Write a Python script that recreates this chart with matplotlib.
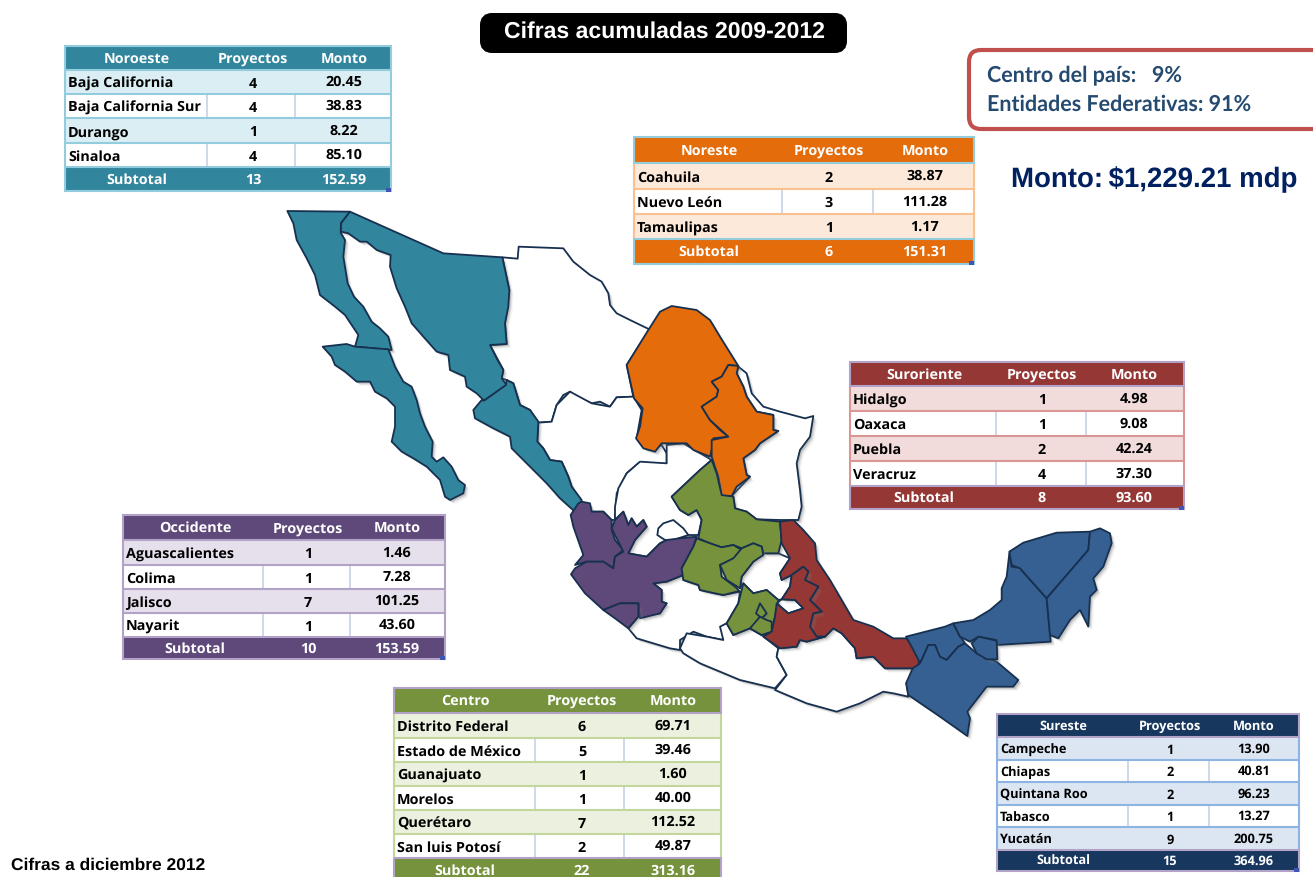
import matplotlib

matplotlib.use("Agg")
import matplotlib.patheffects as pe
import matplotlib.pyplot as plt
from matplotlib.patches import FancyBboxPatch, Rectangle

plt.rcParams["text.hinting"] = "no_hinting"

# Table contents
NOROESTE_STATES = ["Baja California", "Baja California Sur", "Durango", "Sinaloa"]
NOROESTE_PROJECTS = [4, 4, 1, 4]
NOROESTE_AMOUNTS = ["20.45", "38.83", "8.22", "85.10"]
NOROESTE_TOTAL = (13, "152.59")

NORESTE_STATES = ["Coahuila", "Nuevo León", "Tamaulipas"]
NORESTE_PROJECTS = [2, 3, 1]
NORESTE_AMOUNTS = ["38.87", "111.28", "1.17"]
NORESTE_TOTAL = (6, "151.31")

SURORIENTE_STATES = ["Hidalgo", "Oaxaca", "Puebla", "Veracruz"]
SURORIENTE_PROJECTS = [1, 1, 2, 4]
SURORIENTE_AMOUNTS = ["4.98", "9.08", "42.24", "37.30"]
SURORIENTE_TOTAL = (8, "93.60")

OCCIDENTE_STATES = ["Aguascalientes", "Colima", "Jalisco", "Nayarit"]
OCCIDENTE_PROJECTS = [1, 1, 7, 1]
OCCIDENTE_AMOUNTS = ["1.46", "7.28", "101.25", "43.60"]
OCCIDENTE_TOTAL = (10, "153.59")

CENTRO_STATES = ["Distrito Federal", "Estado de México", "Guanajuato", "Morelos", "Querétaro", "San luis Potosí"]
CENTRO_PROJECTS = [6, 5, 1, 1, 7, 2]
CENTRO_AMOUNTS = ["69.71", "39.46", "1.60", "40.00", "112.52", "49.87"]
CENTRO_TOTAL = (22, "313.16")

SURESTE_STATES = ["Campeche", "Chiapas", "Quintana Roo", "Tabasco", "Yucatán"]
SURESTE_PROJECTS = [1, 2, 2, 1, 9]
SURESTE_AMOUNTS = ["13.90", "40.81", "96.23", "13.27", "200.75"]
SURESTE_TOTAL = (15, "364.96")

TEAL = "#31859c"
ORANGE = "#e46c0a"
GREEN = "#76923c"
PURPLE = "#5f497a"
RED = "#953735"
BLUE = "#366092"
NAVY = "#17375e"
OUTLINE = "#17304f"
LILAC = "#b3a2c7"
SKY = "#93cddd"
DIVIDER = "#ccd5e8"

# Map outlines, each list in its own crop frame
# frame A = origin (280, 200), B = (540, 440), C = (480, 230), D = (880, 510), all 3x
BAJA_NORTE = [(22,33),(210,35),(183,70),(182,98),(195,120),(190,170),(203,250),(222,290),(250,320),(275,365),(300,385),(325,410),(335,450),(225,440),(235,405),(195,345),(165,320),(120,285),(105,225),(80,175),(50,120),(40,70)]
BAJA_SUR = [(128,440),(200,432),(225,440),(325,448),(345,500),(370,545),(395,560),(410,600),(420,640),(435,680),(458,725),(455,770),(470,785),(490,772),(515,800),(535,840),(555,855),(550,880),(510,900),(495,890),(480,840),(440,800),(400,775),(365,755),(335,725),(345,680),(345,620),(320,595),(285,575),(270,545),(230,545),(195,515),(165,495),(155,470)]
SONORA = [(210,35),(490,160),(667,172),(688,270),(685,320),(675,370),(680,432),(630,435),(650,475),(670,510),(665,535),(680,555),(612,602),(590,580),(560,560),(555,530),(510,510),(505,465),(470,455),(430,410),(395,370),(375,320),(350,265),(330,200),(332,165),(290,150),(260,125),(240,125),(205,100),(183,95),(183,70)]
SINALOA = [(680,540),(700,550),(720,615),(750,630),(775,665),(772,725),(790,745),(810,780),(845,785),(865,830),(875,860),(905,900),(890,940),(840,895),(800,850),(750,800),(695,745),(690,710),(640,685),(585,655),(580,630),(605,600),(612,602),(678,555)]
CHIHUAHUA = [(667,172),(713,176),(716,140),(850,145),(880,185),(930,225),(965,245),(985,280),(990,315),(1010,340),(1050,360),(1108,388),(1040,495),(1060,590),(1010,592),(990,620),(960,605),(935,610),(890,590),(870,575),(850,585),(830,615),(815,665),(775,668),(750,630),(720,615),(700,550),(680,540),(665,535),(670,510),(630,435),(680,432),(675,370),(688,270)]
DURANGO = [(775,668),(815,665),(830,615),(870,575),(935,610),(990,620),(1010,592),(1060,590),(1085,630),(1070,715),(1110,750),(1145,735),(1160,760),(1160,792),(1075,790),(1040,820),(1010,880),(1005,960),(995,960),(970,935),(935,935),(905,905),(875,860),(865,830),(845,785),(810,780),(790,745),(772,725)]

COAHUILA = [(505,300),(540,245),(575,228),(650,240),(690,270),(720,320),(775,408),(745,405),(725,440),(695,455),(715,480),(710,500),(665,530),(690,570),(720,600),(745,620),(700,625),(695,660),(690,680),(640,660),(620,640),(545,640),(525,665),(490,655),(468,625),(480,590),(488,535),(462,505),(440,405)]
NUEVO_LEON = [(745,405),(775,408),(770,430),(790,470),(800,500),(830,545),(880,555),(880,600),(895,603),(840,640),(825,660),(790,685),(800,735),(810,740),(770,770),(755,798),(725,800),(715,740),(695,680),(695,630),(745,620),(690,570),(665,530),(710,500),(715,480),(695,455),(725,440)]
TAMAULIPAS = [(775,410),(800,430),(815,490),(850,530),(900,545),(975,565),(1000,558),(990,620),(960,660),(950,700),(960,780),(965,830),(955,870),(900,870),(830,868),(800,845),(765,835),(760,800),(755,798),(810,740),(800,735),(790,685),(825,660),(840,640),(895,603),(880,600),(880,555),(830,545),(800,500),(790,470),(770,430)]

ZACATECAS = [(380,15),(430,10),(515,60),(480,90),(395,170),(420,210),(445,225),(470,210),(485,240),(475,285),(440,285),(420,295),(380,300),(360,310),(320,350),(265,340),(285,300),(320,260),(310,240),(290,260),(275,235),(265,255),(250,215),(225,240),(225,200),(235,145),(260,100),(300,65),(380,70)]
AGUASCALIENTES = [(355,265),(370,250),(400,240),(430,265),(445,285),(400,300),(375,300),(352,285)]
NAYARIT = [(92,225),(115,190),(125,185),(150,190),(155,215),(190,215),(215,240),(215,270),(225,300),(250,330),(225,350),(220,385),(190,365),(140,365),(105,375),(130,345),(100,260)]
JALISCO = [(140,365),(190,365),(220,385),(225,350),(250,335),(215,265),(225,240),(250,215),(265,255),(275,235),(290,260),(310,240),(320,260),(285,300),(265,340),(320,350),(360,310),(380,300),(420,295),(470,290),(460,320),(425,385),(430,405),(380,425),(340,430),(365,450),(365,485),(380,490),(360,520),(300,535),(295,490),(240,490),(190,510),(135,460),(93,403),(105,385)]
COLIMA = [(190,510),(240,490),(295,490),(295,530),(265,565),(225,535)]
SAN_LUIS = [(515,60),(530,100),(545,165),(580,170),(585,205),(620,215),(650,238),(720,245),(725,300),(715,340),(670,340),(665,320),(640,310),(605,325),(580,315),(545,322),(510,310),(475,295),(485,240),(470,210),(445,225),(420,210),(395,170),(480,90)]
GUANAJUATO = [(470,295),(510,310),(545,322),(580,315),(605,330),(605,345),(540,375),(545,410),(585,440),(600,455),(590,455),(550,465),(525,460),(480,450),(475,435),(430,420),(425,385),(460,320)]
QUERETARO = [(605,325),(640,310),(665,320),(670,345),(640,365),(605,410),(600,445),(560,420),(540,375),(580,355)]
EDO_MEXICO = [(610,430),(640,460),(680,450),(715,480),(705,530),(695,575),(665,585),(630,565),(580,585),(560,550),(595,490)]
DISTRITO_FEDERAL = [(660,490),(680,520),(665,535),(648,520)]
MORELOS = [(630,565),(660,530),(680,540),(695,545),(695,575),(665,585)]
VERACRUZ = [(720,245),(760,240),(790,270),(825,310),(830,360),(870,420),(905,480),(940,540),(1000,560),(1060,595),(1100,595),(1140,660),(1130,685),(1035,685),(1000,650),(950,655),(945,625),(905,580),(880,565),(855,590),(830,590),(810,560),(820,520),(845,515),(810,480),(835,440),(795,420),(805,395),(790,380),(755,405),(725,420),(720,400),(750,355),(725,310)]
PUEBLA = [(755,405),(790,380),(805,395),(795,420),(835,440),(810,480),(845,515),(820,520),(810,560),(830,590),(855,590),(800,605),(780,600),(770,620),(720,625),(670,590),(695,575),(705,530),(710,490),(745,520),(790,505),(765,480),(725,478),(750,440)]
TLAXCALA = [(710,490),(725,478),(765,480),(790,505),(745,520)]
HIDALGO = [(670,340),(715,340),(750,355),(720,400),(725,420),(755,405),(750,440),(725,478),(715,480),(680,450),(640,460),(610,430),(600,445),(605,410),(640,365)]
MICHOACAN = [(340,430),(380,425),(430,405),(430,420),(475,435),(480,450),(525,460),(550,465),(600,455),(595,490),(560,550),(545,560),(550,600),(500,590),(460,575),(420,600),(420,630),(390,625),(290,595),(265,565),(295,530),(360,520),(380,490),(365,485),(365,450)]
GUERRERO = [(420,625),(440,580),(500,590),(550,600),(540,560),(560,550),(580,585),(630,565),(665,585),(715,625),(710,650),(740,705),(705,745),(600,720),(480,670),(430,640)]
OAXACA = [(715,625),(770,620),(780,600),(800,605),(855,590),(880,565),(905,580),(945,625),(950,655),(1000,650),(1035,685),(1130,685),(1100,730),(1105,770),(1060,760),(1030,755),(960,790),(890,815),(800,790),(705,750),(740,705),(710,650)]

TABASCO = [(78,380),(195,350),(220,340),(240,380),(245,385),(255,400),(235,410),(200,450),(180,440),(165,405),(145,405),(125,450),(118,455),(95,410)]
CHIAPAS = [(118,462),(125,450),(145,405),(165,405),(180,440),(200,450),(235,410),(255,400),(290,430),(310,440),(350,455),(415,510),(400,530),(320,530),(262,605),(270,625),(262,678),(180,620),(85,555),(78,520),(98,475)]
CAMPECHE = [(220,340),(280,330),(330,300),(365,270),(365,235),(380,200),(388,130),(395,170),(420,175),(500,265),(512,395),(350,405),(348,390),(295,380),(270,395),(240,380)]
CAMPECHE_SUR = [(295,380),(350,392),(352,448),(320,448),(290,430),(275,400)]
YUCATAN = [(388,125),(430,98),(530,68),(630,65),(625,120),(500,265),(420,175),(395,165)]
QUINTANA_ROO = [(630,65),(660,55),(690,70),(695,100),(670,170),(640,205),(650,240),(630,260),(625,350),(600,300),(570,330),(535,385),(510,375),(500,265),(625,120)]

FRAMES = {"A": (280, 200), "B": (540, 440), "C": (480, 230), "D": (880, 510)}
MAP_SHAPES = [
    (CHIHUAHUA, "A", "white"), (DURANGO, "A", "white"), (TAMAULIPAS, "C", "white"),
    (ZACATECAS, "B", "white"), (AGUASCALIENTES, "B", "white"), (MICHOACAN, "B", "white"),
    (GUERRERO, "B", "white"), (OAXACA, "B", "white"), (HIDALGO, "B", "white"), (TLAXCALA, "B", "white"),
    (BAJA_NORTE, "A", TEAL), (BAJA_SUR, "A", TEAL), (SONORA, "A", TEAL), (SINALOA, "A", TEAL),
    (COAHUILA, "C", ORANGE), (NUEVO_LEON, "C", ORANGE),
    (NAYARIT, "B", PURPLE), (JALISCO, "B", PURPLE), (COLIMA, "B", PURPLE),
    (SAN_LUIS, "B", GREEN), (GUANAJUATO, "B", GREEN), (QUERETARO, "B", GREEN), (EDO_MEXICO, "B", GREEN),
    (DISTRITO_FEDERAL, "B", GREEN), (MORELOS, "B", GREEN),
    (VERACRUZ, "B", RED), (PUEBLA, "B", RED),
    (TABASCO, "D", BLUE), (CHIAPAS, "D", BLUE), (CAMPECHE, "D", BLUE), (CAMPECHE_SUR, "D", BLUE),
    (YUCATAN, "D", BLUE), (QUINTANA_ROO, "D", BLUE),
]

FONT = "Open Sans"


def draw_map(ax):
    shadow = [
        pe.SimplePatchShadow(offset=(3.0, -3.0), shadow_rgbFace="#999999", alpha=0.10),
        pe.SimplePatchShadow(offset=(2.2, -2.2), shadow_rgbFace="#777777", alpha=0.16),
        pe.SimplePatchShadow(offset=(1.4, -1.4), shadow_rgbFace="#555555", alpha=0.22),
        pe.Normal(),
    ]
    for outline, frame, color in MAP_SHAPES:
        ox, oy = FRAMES[frame]
        xs = [ox + p[0] / 3 for p in outline]
        ys = [oy + p[1] / 3 for p in outline]
        poly = ax.fill(xs, ys, facecolor=color, edgecolor=OUTLINE, linewidth=1.3, joinstyle="round", zorder=2)[0]
        poly.set_path_effects(shadow)


def cell_text(ax, x, y, label, color, size, ha="center"):
    ax.text(x, y, label, ha=ha, va="center", fontsize=size, fontweight="bold", family=FONT, color=color, zorder=6)


def draw_table(ax, title, states, projects, amounts, total, rows, cols, centers, dark, light, border, accent, size=10.4):
    # rows: y of every row edge, cols: left, dividers, right
    left, right = cols[0], cols[-1]
    top, bottom = rows[0], rows[-1]
    ax.add_patch(Rectangle((left, top), right - left, bottom - top, fc="white", ec="none", zorder=3))

    # row bands and the two dark bars
    ax.add_patch(Rectangle((left, top), right - left, rows[1] - top, fc=dark, ec="none", zorder=4))
    ax.add_patch(Rectangle((left, rows[-2]), right - left, bottom - rows[-2], fc=dark, ec="none", zorder=4))
    for i, state in enumerate(states):
        y0, y1 = rows[i + 1], rows[i + 2]
        if i % 2 == 0:
            ax.add_patch(Rectangle((left, y0), right - left, y1 - y0, fc=light, ec="none", zorder=4))
        else:
            for x in cols[1:3]:
                ax.plot([x, x], [y0, y1], color=DIVIDER, lw=1.3, zorder=5, solid_capstyle="butt")
        ym = (y0 + y1) / 2
        cell_text(ax, left + 3, ym + 2, state, "black", size, ha="left")
        cell_text(ax, centers[1], ym + 2, str(projects[i]), "black", size)
        cell_text(ax, centers[2], ym + 0.5, amounts[i], "black", size)

    # borders: rows in the light colour, dark bars in the accent colour
    for y in rows[2:-2]:
        ax.plot([left, right], [y, y], color=border, lw=1.5, zorder=5, solid_capstyle="butt")
    ax.plot([left, left], [rows[1], rows[-2]], color=border, lw=1.5, zorder=5, solid_capstyle="butt")
    ax.plot([right, right], [rows[1], rows[-2]], color=border, lw=1.5, zorder=5, solid_capstyle="butt")
    ax.add_patch(Rectangle((left, top), right - left, rows[1] - top, fc="none", ec=accent, lw=1.5, zorder=5))
    ax.add_patch(Rectangle((left, rows[-2]), right - left, bottom - rows[-2], fc="none", ec=accent, lw=1.5, zorder=5))

    ym = (top + rows[1]) / 2 + 1
    for cx, label in zip(centers, [title, "Proyectos", "Monto"]):
        cell_text(ax, cx, ym, label, "white", size)
    ym = (rows[-2] + bottom) / 2 + 1
    for cx, label in zip(centers, ["Subtotal", str(total[0]), total[1]]):
        cell_text(ax, cx, ym, label, "white", size)
    ax.add_patch(Rectangle((right - 5, bottom - 3), 5, 4, fc="#3f55b5", ec="none", zorder=7))


fig = plt.figure(figsize=(13.13, 8.77), dpi=100)
ax = fig.add_axes([0, 0, 1, 1])
ax.set_xlim(0, 1313)
ax.set_ylim(877, 0)
ax.axis("off")

draw_map(ax)

draw_table(ax, "Noroeste", NOROESTE_STATES, NOROESTE_PROJECTS, NOROESTE_AMOUNTS, NOROESTE_TOTAL,
           [46, 70, 94, 118, 143, 167, 191], [65, 207, 295, 391], [137, 253, 344], TEAL, "#dbeef4", SKY, SKY)
draw_table(ax, "Noreste", NORESTE_STATES, NORESTE_PROJECTS, NORESTE_AMOUNTS, NORESTE_TOTAL,
           [137, 163, 189, 214, 239, 264], [634, 782, 873, 974], [709, 829, 925], ORANGE, "#fde9d9", "#fac090", SKY)
draw_table(ax, "Suroriente", SURORIENTE_STATES, SURORIENTE_PROJECTS, SURORIENTE_AMOUNTS, SURORIENTE_TOTAL,
           [362, 386, 411, 436, 461, 486, 509], [850, 996, 1086, 1184], [924, 1042, 1134], RED, "#f2dcdb", "#d99694", LILAC)
draw_table(ax, "Occidente", OCCIDENTE_STATES, OCCIDENTE_PROJECTS, OCCIDENTE_AMOUNTS, OCCIDENTE_TOTAL,
           [515, 540, 565, 589, 613, 637, 659], [123, 263, 350, 445], [195, 308, 397], PURPLE, "#e6e0ec", LILAC, LILAC)
draw_table(ax, "Centro", CENTRO_STATES, CENTRO_PROJECTS, CENTRO_AMOUNTS, CENTRO_TOTAL,
           [688, 713, 738, 762, 786, 810, 834, 858, 882], [394, 535, 624, 721], [465, 582, 673], GREEN, "#ebf1de", "#c3d69b", LILAC)
draw_table(ax, "Sureste", SURESTE_STATES, SURESTE_PROJECTS, SURESTE_AMOUNTS, SURESTE_TOTAL,
           [714, 737, 760, 782, 805, 827, 850, 871], [997, 1128, 1209, 1299], [1063, 1170, 1254], NAVY, "#dce6f2", "#8eb4e3", LILAC, size=9.2)

# Title box
ax.add_patch(FancyBboxPatch((486, 19), 355, 28, boxstyle="round,pad=0,rounding_size=6",
                            fc="black", ec="black", lw=12 * 0.72, zorder=3))
ax.text(664, 32, "Cifras acumuladas 2009-2012", ha="center", va="center", fontsize=16.6, fontweight="bold",
        family="Liberation Sans", color="white", zorder=4)

# Percent box, runs off the right edge
ax.add_patch(FancyBboxPatch((969, 50), 400, 79, boxstyle="round,pad=0,rounding_size=12",
                            fc="white", ec="#c0504d", lw=3, zorder=3))
ax.text(987, 76, "Centro del país:   9%", ha="left", va="center", fontsize=15.5, fontweight="bold", family="Lato", color="#254a70", zorder=4)
ax.text(987, 104, "Entidades Federativas: 91%", ha="left", va="center", fontsize=15.5, fontweight="bold", family="Lato", color="#254a70", zorder=4)

ax.text(1011, 180, "Monto:\u2009$1,229.21 mdp", ha="left", va="center", fontsize=19.9, fontweight="bold",
        family="Liberation Sans", color="#002060", zorder=4)
ax.text(11, 865, "Cifras a diciembre 2012", ha="left", va="center", fontsize=12.5, fontweight="bold",
        family="Liberation Sans", color="black", zorder=4)

fig.savefig("out.png", dpi=100)
